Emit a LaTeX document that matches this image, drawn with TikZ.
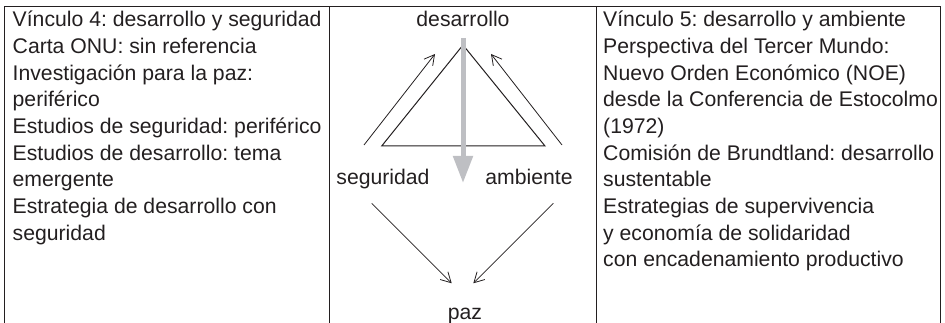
\documentclass[tikz,border=0pt]{standalone}
\usepackage{fontspec}
\setmainfont{Liberation Sans}
\usetikzlibrary{arrows.meta}
\frenchspacing
\definecolor{ink}{RGB}{35,31,32}
\definecolor{shade}{RGB}{190,191,195}
\newcommand{\txtfont}{\fontsize{21.2}{26.7}\selectfont}
\tikzset{
  rule/.style={draw=ink, line width=0.9pt},
  lbl/.style={font=\txtfont, text=ink, inner sep=0pt, anchor=base},
  col/.style={inner sep=0pt, anchor=base west, text=ink},
  link/.style={draw=ink, line width=0.8pt, -{Straight Barb[length=10pt,width=11pt]}},
  tri/.style={draw=ink, line width=1pt, line join=miter},
  flow/.style={draw=shade, line width=5pt, -{Triangle[length=27pt,width=19pt]}}
}
\begin{document}
\begin{tikzpicture}[x=1pt,y=-1pt]
\useasboundingbox (0,0) rectangle (945,323);
% table rules
\coordinate (tl) at (4,6.7);
\coordinate (tr) at (940,6.7);
\coordinate (bl) at (4,323);
\coordinate (br) at (940,323);
\coordinate (m1t) at (329.3,6.7);
\coordinate (m1b) at (329.3,323);
\coordinate (m2t) at (596.7,6.7);
\coordinate (m2b) at (596.7,323);
\draw[rule] (bl) -- (tl) -- (tr) -- (br);
\draw[rule] (m1t) -- (m1b);
\draw[rule] (m2t) -- (m2b);
% left column
\node[col] (left) at (12.5,26.7) {\parbox[t]{316pt}{\txtfont
Vínculo 4: desarrollo y seguridad\\
Carta ONU: sin referencia\\
Investigación para la paz:\\
periférico\\
Estudios de seguridad: periférico\\
Estudios de desarrollo: tema\\
emergente\\
Estrategia de desarrollo con\\
seguridad}};
% right column
\node[col] (right) at (603,26.7) {\parbox[t]{336pt}{\txtfont
Vínculo 5: desarrollo y ambiente\\
Perspectiva del Tercer Mundo:\\
Nuevo Orden Económico (NOE)\\
desde la Conferencia de Estocolmo\\
(1972)\\
Comisión de Brundtland: desarrollo\\
sustentable\\
Estrategias de supervivencia\\
y economía de solidaridad\\
con encadenamiento productivo}};
% centre labels
\node[lbl] (des) at (463,26.7) {desarrollo};
\node[lbl] (seg) at (383,185) {seguridad};
\node[lbl] (amb) at (529,185) {ambiente};
\node[lbl] (paz) at (465,319) {paz};
% triangle
\coordinate (apex) at (463,45);
\coordinate (bL) at (381.7,146);
\coordinate (bR) at (545,146);
\draw[tri] (apex) -- (bL) -- (bR) -- cycle;
% upward arrows
\coordinate (s1) at (364,145);
\coordinate (s2) at (435,54);
\coordinate (a1) at (562,145);
\coordinate (a2) at (491,54);
\draw[link] (s1) -- (s2);
\draw[link] (a1) -- (a2);
% downward arrows to paz
\coordinate (s3) at (371.7,203.3);
\coordinate (s4) at (451.7,283.3);
\coordinate (a3) at (553.3,203.3);
\coordinate (a4) at (473.3,283.3);
\draw[link] (s3) -- (s4);
\draw[link] (a3) -- (a4);
% grey flow arrow
\coordinate (g1) at (463,38);
\coordinate (g2) at (463,183);
\draw[flow] (g1) -- (g2);
\end{tikzpicture}
\end{document}
